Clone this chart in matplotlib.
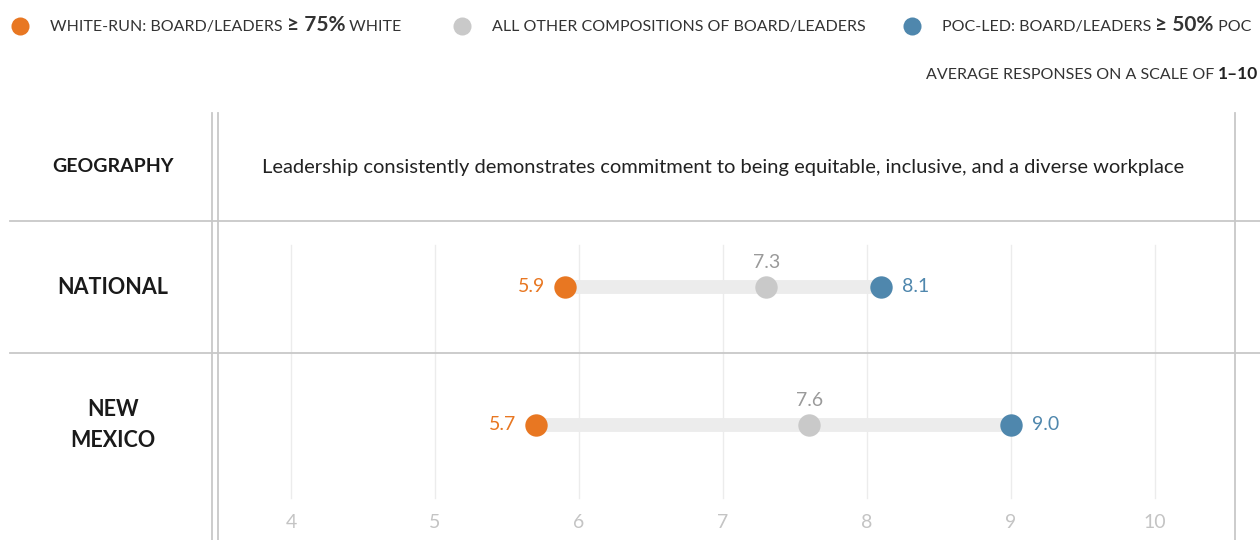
import matplotlib
matplotlib.use('Agg')
import matplotlib.pyplot as plt
from matplotlib.lines import Line2D
from matplotlib.transforms import blended_transform_factory

plt.rcParams['font.family'] = ['Lato', 'DejaVu Sans']

# data
geographies = ['NATIONAL', 'NEW\nMEXICO']
white_run = [5.9, 5.7]
all_other = [7.3, 7.6]
poc_led = [8.1, 9.0]
ticks = [4, 5, 6, 7, 8, 9, 10]
question = 'Leadership consistently demonstrates commitment to being equitable, inclusive, and a diverse workplace'

ORANGE = '#e87722'
GREY = '#c9c9c9'
GREY_TXT = '#9a9a9a'
BLUE = '#4f87ad'
LINE = '#c8c8c8'

W, H = 1260, 540
fig = plt.figure(figsize=(W / 100, H / 100), dpi=100)
ax = fig.add_axes([0, 0, 1, 1])
ax.set_axis_off()

# x: 4 -> px 291, 10 -> px 1155 ; rows: 0 -> px 287, 1 -> px 425
xpx = 144.0
ax.set_xlim(4 - 291 / xpx, 4 + (W - 291) / xpx)
ypx = 138.0
ax.set_ylim(-287 / ypx + (H / ypx), -287 / ypx)


def fx(px):
    return px / W


def fy(py):
    return 1 - py / H


def fig_line(x0, y0, x1, y1, color=LINE, lw=1.3):
    fig.add_artist(Line2D([fx(x0), fx(x1)], [fy(y0), fy(y1)], color=color, lw=lw,
                          transform=fig.transFigure))


# table structure
fig_line(212, 113, 212, 540)
fig_line(218, 113, 218, 540)
fig_line(1235, 113, 1235, 540)
fig_line(10, 221, 1260, 221)
fig_line(10, 353, 1260, 353)

# gridlines + tick labels
bt = blended_transform_factory(ax.transData, fig.transFigure)
for t in ticks:
    ax.plot([t, t], [fy(245), fy(498)], color='#ececec', lw=1, transform=bt, zorder=0)
    ax.text(t, fy(523), str(t), transform=bt, ha='center', va='center',
            fontsize=14, color='#c4c4c4')

# dumbbells
rows = range(len(geographies))
for i in rows:
    ax.plot([white_run[i], poc_led[i]], [i, i], color='#ececec', lw=10,
            solid_capstyle='butt', zorder=1)
ax.scatter(white_run, list(rows), s=260, color=ORANGE, zorder=3, linewidths=0)
ax.scatter(all_other, list(rows), s=260, color=GREY, zorder=3, linewidths=0)
ax.scatter(poc_led, list(rows), s=260, color=BLUE, zorder=3, linewidths=0)

rt = blended_transform_factory(fig.transFigure, ax.transData)
for i in rows:
    ax.annotate(f'{white_run[i]:.1f}', (white_run[i], i), xytext=(-14, 0),
                textcoords='offset points', ha='right', va='center',
                fontsize=14, color=ORANGE)
    ax.annotate(f'{all_other[i]:.1f}', (all_other[i], i), xytext=(0, 18),
                textcoords='offset points', ha='center', va='center',
                fontsize=14, color=GREY_TXT)
    ax.annotate(f'{poc_led[i]:.1f}', (poc_led[i], i), xytext=(15, 0),
                textcoords='offset points', ha='left', va='center',
                fontsize=14, color=BLUE)
    ax.text(fx(113), i, geographies[i], transform=rt,
            ha='center', va='center', fontsize=15.5, fontweight='bold', color='#1a1a1a',
            linespacing=1.55)

# header
fig.text(fx(113), fy(167), 'GEOGRAPHY', ha='center', va='center', fontsize=14,
         fontweight='bold', color='#1a1a1a')
fig.text(fx(723), fy(167), question, ha='center', va='center', fontsize=14.5, color='#222222')

# legend
legend_items = [
    (ORANGE, 20, 'WHITE-RUN: BOARD/LEADERS ', '\u2265 75%', ' WHITE'),
    (GREY, 462, 'ALL OTHER COMPOSITIONS OF BOARD/LEADERS', '', ''),
    (BLUE, 912, 'POC-LED: BOARD/LEADERS ', '\u2265 50%', ' POC'),
]
renderer = fig.canvas.get_renderer()
for color, x0, pre, big, post in legend_items:
    fig.add_artist(Line2D([fx(x0)], [fy(26)], marker='o', markersize=13, color=color,
                          markeredgewidth=0, transform=fig.transFigure))
    x = x0 + 30
    for part, size, weight in [(pre, 11.5, 'normal'), (big, 15, 'bold'), (post, 11.5, 'normal')]:
        if not part:
            continue
        t = fig.text(fx(x), fy(31), part, ha='left', va='baseline', fontsize=size,
                     fontweight=weight, color='#333333')
        x += t.get_window_extent(renderer).width

t2 = fig.text(fx(1258), fy(79), '1\u201310', ha='right', va='baseline', fontsize=12.5,
              fontweight='bold', color='#222222')
w2 = t2.get_window_extent(renderer).width
fig.text(fx(1258 - w2 - 4), fy(79), 'AVERAGE RESPONSES ON A SCALE OF', ha='right',
         va='baseline', fontsize=11.5, color='#333333')

fig.savefig('out.png', dpi=100)
